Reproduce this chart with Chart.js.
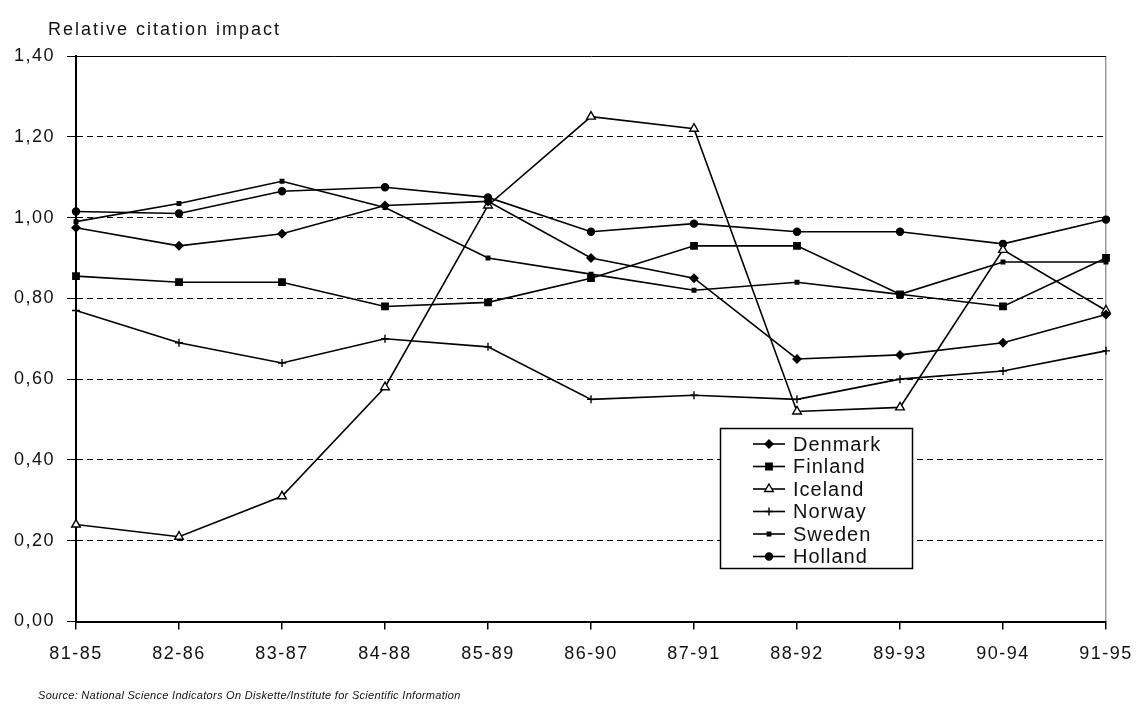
<!DOCTYPE html>
<html>
<head>
<meta charset="utf-8">
<script src="https://cdn.jsdelivr.net/npm/chart.js@4.4.0/dist/chart.umd.min.js"></script>
<style>
  html, body { margin: 0; padding: 0; background: #fff; }
  #wrap { width: 1139px; height: 707px; }
</style>
</head>
<body>
<div id="wrap"><canvas id="citationChart" width="1139" height="707"></canvas></div>
<script>
// data
const periods = ["81-85", "82-86", "83-87", "84-88", "85-89", "86-90", "87-91", "88-92", "89-93", "90-94", "91-95"];
const denmark = [0.975, 0.93, 0.96, 1.03, 1.04, 0.90, 0.85, 0.65, 0.66, 0.69, 0.76];
const finland = [0.855, 0.84, 0.84, 0.78, 0.79, 0.85, 0.93, 0.93, 0.81, 0.78, 0.90];
const iceland = [0.24, 0.21, 0.31, 0.58, 1.03, 1.25, 1.22, 0.52, 0.53, 0.92, 0.77];
const norway = [0.77, 0.69, 0.64, 0.70, 0.68, 0.55, 0.56, 0.55, 0.60, 0.62, 0.67];
const sweden = [0.99, 1.035, 1.09, 1.025, 0.90, 0.86, 0.82, 0.84, 0.81, 0.89, 0.89];
const holland = [1.015, 1.01, 1.065, 1.075, 1.05, 0.965, 0.985, 0.965, 0.965, 0.935, 0.995];
const yTickLabels = ["0,00", "0,20", "0,40", "0,60", "0,80", "1,00", "1,20", "1,40"];

const FONT = "'Liberation Sans', Arial, sans-serif";

function series(label, data, pointStyle, radius, fill) {
  return {
    label: label,
    data: data,
    borderColor: "#000",
    borderWidth: 1.6,
    tension: 0,
    fill: false,
    pointStyle: pointStyle,
    pointRadius: radius,
    pointHoverRadius: radius,
    pointBorderWidth: 1.4,
    pointBorderColor: "#000",
    pointBackgroundColor: fill
  };
}

// title, source line and the boxed legend inside the plot
const extras = {
  id: "extras",
  beforeUpdate(chart) {
    chart.ctx.letterSpacing = "1.5px";
  },
  afterDraw(chart) {
    const ctx = chart.ctx;
    ctx.save();
    ctx.fillStyle = "#111";
    ctx.textAlign = "left";
    ctx.textBaseline = "alphabetic";
    ctx.letterSpacing = "2px";
    ctx.font = "18px " + FONT;
    ctx.fillText("Relative citation impact", 48, 35);

    ctx.letterSpacing = "0.3px";
    ctx.font = "italic 11px " + FONT;
    ctx.fillText("Source: National Science Indicators On Diskette/Institute for Scientific Information", 38, 699);

    // legend box
    const bx = 720, by = 428, bw = 192, bh = 140;
    ctx.fillStyle = "#fff";
    ctx.fillRect(bx, by, bw, bh);
    ctx.letterSpacing = "1px";
    ctx.font = "20px " + FONT;
    ctx.textBaseline = "middle";
    chart.data.datasets.forEach((ds, i) => {
      const y = 444 + i * 22.5;
      ctx.strokeStyle = "#000";
      ctx.lineWidth = 1.6;
      ctx.beginPath();
      ctx.moveTo(753, y);
      ctx.lineTo(785, y);
      ctx.stroke();
      if (Chart.helpers && Chart.helpers.drawPoint) {
        ctx.fillStyle = ds.pointBackgroundColor;
        ctx.lineWidth = 1.4;
        Chart.helpers.drawPoint(ctx, { pointStyle: ds.pointStyle, radius: ds.pointRadius, borderWidth: 1.4, rotation: 0 }, 769, y);
      }
      ctx.fillStyle = "#111";
      ctx.fillText(ds.label, 793, y + 1);
    });
    ctx.strokeStyle = "#000";
    ctx.lineWidth = 1.5;
    ctx.strokeRect(bx + 0.5, by + 0.5, bw, bh);
    ctx.restore();
  }
};

const ctx = document.getElementById("citationChart").getContext("2d");

new Chart(ctx, {
  type: "line",
  data: {
    labels: periods,
    datasets: [
      series("Denmark", denmark, "rectRot", 4, "#000"),
      series("Finland", finland, "rect", 4.5, "#000"),
      series("Iceland", iceland, "triangle", 5, "#fff"),
      series("Norway", norway, "cross", 4, "#000"),
      series("Sweden", sweden, "rect", 2.5, "#000"),
      series("Holland", holland, "circle", 3.5, "#000")
    ]
  },
  options: {
    responsive: false,
    animation: false,
    events: [],
    layout: { padding: { left: 0, top: 56, right: 33, bottom: 0 } },
    plugins: {
      legend: { display: false },
      tooltip: { enabled: false }
    },
    scales: {
      x: {
        offset: false,
        afterFit: (scale) => {
          scale.height = 85.5;
          scale.paddingLeft = 0;
          scale.paddingRight = 0; // let the last label hang past the plot
        },
        grid: {
          offset: false,
          drawOnChartArea: true,
          color: (c) => (c.index === periods.length - 1 ? "#9a9a9a" : "rgba(0,0,0,0)"),
          lineWidth: 1.5,
          tickColor: "#000",
          tickLength: 8
        },
        border: { color: "#000", width: 2 },
        ticks: {
          color: "#111",
          padding: 14,
          maxRotation: 0,
          autoSkip: false,
          font: { family: FONT, size: 18 }
        }
      },
      y: {
        min: 0,
        max: 1.4,
        afterFit: (scale) => { scale.width = 76; },
        grid: {
          color: "#000",
          lineWidth: 1,
          tickColor: "#000",
          tickLength: 9
        },
        border: {
          color: "#000",
          width: 2,
          dash: (c) => (c.tick && Math.abs(c.tick.value - 1.4) < 1e-6 ? [] : [6, 4])
        },
        ticks: {
          stepSize: 0.2,
          color: "#111",
          padding: 12,
          font: { family: FONT, size: 18 },
          callback: (v, i) => yTickLabels[i]
        }
      }
    }
  },
  plugins: [extras]
});
</script>
</body>
</html>
